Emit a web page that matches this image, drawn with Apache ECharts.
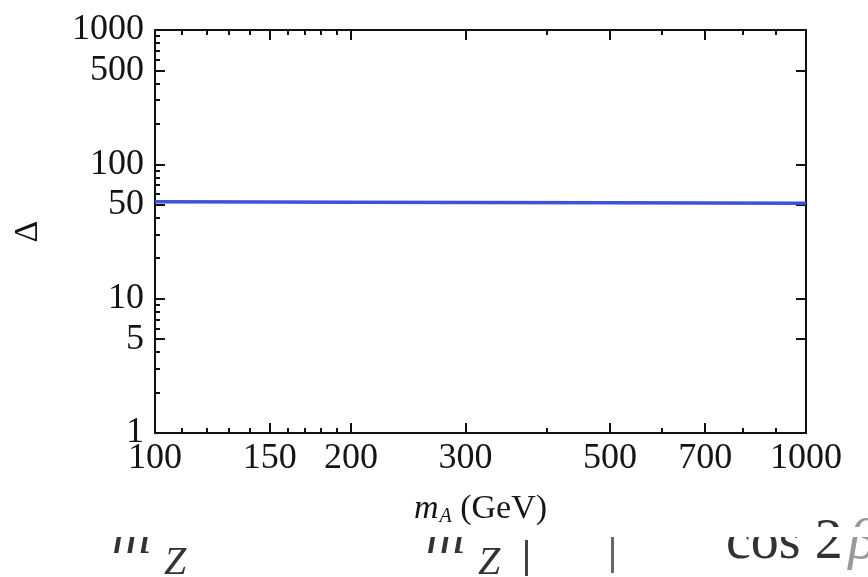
<!DOCTYPE html>
<html lang="en">
<head>
    <meta charset="UTF-8">
    <title>Delta vs mA</title>
    <script src="https://cdn.jsdelivr.net/npm/echarts@6/dist/echarts.min.js"></script>
    <style>
        html, body { margin: 0; padding: 0; background: #fff; }
        #main { width: 868px; height: 577px; }
    </style>
</head>
<body>
    <div id="main"></div>
    <script>
        // data
        var massA = [100, 150, 200, 300, 500, 700, 1000];
        var delta = [52.7, 52.5, 52.3, 52.0, 51.7, 51.5, 51.3];

        // ticks and labels
        var xLabels = [100, 150, 200, 300, 500, 700, 1000];
        var xMajorTicks = [150, 200, 300, 500, 700];
        var xMinorTicks = [110, 120, 130, 140, 160, 170, 180, 190, 400, 600, 800, 900];
        var yLabels = [1, 5, 10, 50, 100, 500, 1000];
        var yMajorTicks = [5, 10, 50, 100, 500];
        var yMinorTicks = [2, 3, 4, 6, 7, 8, 9, 20, 30, 40, 60, 70, 80, 90, 200, 300, 400, 600, 700, 800, 900];

        var font = "'Liberation Serif', 'DejaVu Serif', serif";
        var gridBox = { left: 155, right: 62, top: 30, bottom: 144 };

        function logAxis(opt) {
            var ax = {
                type: 'log',
                logBase: 10,
                gridIndex: opt.grid,
                position: opt.position,
                min: opt.min,
                max: opt.max,
                axisLine: { show: !!opt.line, lineStyle: { color: '#111', width: 2 } },
                splitLine: { show: false },
                minorTick: { show: false },
                axisTick: {
                    show: true,
                    inside: true,
                    length: opt.len,
                    customValues: opt.ticks,
                    lineStyle: { color: '#111', width: 2 }
                },
                axisLabel: { show: false }
            };
            if (opt.labels) {
                ax.axisLabel = {
                    show: true,
                    customValues: opt.labels,
                    margin: opt.margin,
                    color: '#151515',
                    fontFamily: font,
                    fontSize: 36,
                    formatter: function (v) { return String(Math.round(v)); }
                };
            }
            return ax;
        }

        var myChart = echarts.init(document.getElementById('main'));

        var option = {
            backgroundColor: '#fff',
            animation: false,
            grid: [
                Object.assign({}, gridBox),
                Object.assign({}, gridBox)
            ],
            xAxis: [
                Object.assign(logAxis({ grid: 0, position: 'bottom', min: 100, max: 1000, line: true, len: 10, ticks: xLabels, labels: xLabels, margin: 8 }), {
                    name: '{m|m}{sub|A} (GeV)',
                    nameLocation: 'middle',
                    nameGap: 58,
                    nameTextStyle: {
                        color: '#151515',
                        fontFamily: font,
                        fontSize: 34,
                        rich: {
                            m: { fontFamily: font, fontSize: 34, fontStyle: 'italic', color: '#151515' },
                            sub: { fontFamily: font, fontSize: 20, fontStyle: 'italic', color: '#151515', verticalAlign: 'bottom', padding: [16, 0, 0, 1] }
                        }
                    }
                }),
                logAxis({ grid: 0, position: 'top', min: 100, max: 1000, line: true, len: 10, ticks: xMajorTicks }),
                logAxis({ grid: 1, position: 'bottom', min: 100, max: 1000, len: 5, ticks: xMinorTicks }),
                logAxis({ grid: 1, position: 'top', min: 100, max: 1000, len: 5, ticks: xMinorTicks })
            ],
            yAxis: [
                Object.assign(logAxis({ grid: 0, position: 'left', min: 1, max: 1000, line: true, len: 10, ticks: yLabels, labels: yLabels, margin: 11 }), {
                    name: 'Δ',
                    nameLocation: 'middle',
                    nameGap: 110,
                    nameRotate: 90,
                    nameTextStyle: { color: '#151515', fontFamily: font, fontSize: 34 }
                }),
                logAxis({ grid: 0, position: 'right', min: 1, max: 1000, line: true, len: 10, ticks: yMajorTicks }),
                logAxis({ grid: 1, position: 'left', min: 1, max: 1000, len: 5, ticks: yMinorTicks })
            ],
            series: [{
                type: 'line',
                xAxisIndex: 0,
                yAxisIndex: 0,
                data: massA.map(function (m, i) { return [m, delta[i]]; }),
                showSymbol: false,
                smooth: false,
                lineStyle: { color: '#3f52dc', width: 3.5 },
                z: 1
            }],
            graphic: [
                // bits of the equation below the figure, cut off at the top
                { type: 'text', z: 0, left: 112, top: 512, style: { text: 'm', font: 'italic 54px ' + font, fill: '#333' } },
                { type: 'text', z: 0, left: 164, top: 543, style: { text: 'Z', font: 'italic 40px ' + font, fill: '#333' } },
                { type: 'text', z: 0, left: 426, top: 512, style: { text: 'm', font: 'italic 54px ' + font, fill: '#333' } },
                { type: 'text', z: 0, left: 478, top: 543, style: { text: 'Z', font: 'italic 40px ' + font, fill: '#333' } },
                { type: 'rect', z: 0, shape: { x: 525, y: 540, width: 3, height: 36 }, style: { fill: '#444' } },
                { type: 'rect', z: 0, shape: { x: 611, y: 535, width: 3, height: 38 }, style: { fill: '#666' } },
                { type: 'text', z: 0, left: 726, top: 515, style: { text: 'cos 2', font: '56px ' + font, fill: '#333' } },
                { type: 'text', z: 0, left: 848, top: 515, style: { text: 'β', font: 'italic 56px ' + font, fill: '#999' } },
                { type: 'rect', z: 1, shape: { x: 0, y: 527, width: 868, height: 10 }, style: { fill: '#fff' } }
            ]
        };

        myChart.setOption(option);
    </script>
</body>
</html>
